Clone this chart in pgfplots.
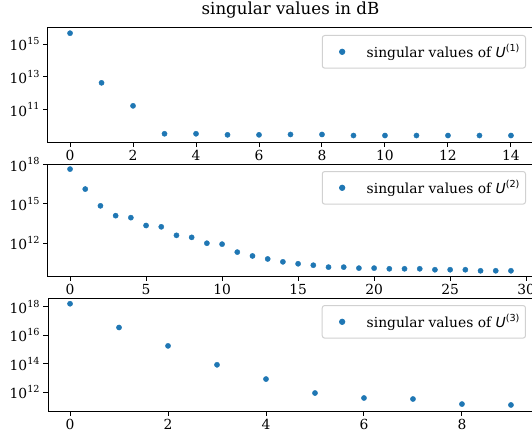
\documentclass[border=0pt]{standalone}
\usepackage{fontspec}
\setmainfont{DejaVu Serif}
\newfontfamily\dvs{DejaVu Sans}
\usepackage{pgfplots}
\pgfplotsset{compat=1.18}
\definecolor{tabblue}{HTML}{1F77B4}
\newcommand{\Ulab}[1]{{\dvs\itshape U}\raisebox{0.42em}{\dvs\fontsize{9.7}{10}\selectfont(#1)}}
\newcommand{\tp}[1]{10\raisebox{0.45em}{\fontsize{9.7}{10}\selectfont #1}}
\pgfplotsset{
 every axis/.append style={
  scale only axis, width=485bp, anchor=north west,
  axis line style={line width=1.0bp},
  every tick/.style={black, line width=1.0bp},
  major tick length=4.9bp, tick align=outside,
  xtick pos=bottom, ytick pos=left,
  tick label style={font=\fontsize{13.9}{16}\selectfont},
  /pgf/number format/assume math mode=true,
  axis background/.style={fill=white},
  legend style={at={(1,1)}, anchor=north east, xshift=-7bp, yshift=-7bp,
    draw=black!18, rounded corners=2.5bp, line width=1.0bp, fill=white,
    font=\fontsize{13.9}{16}\selectfont, inner xsep=4bp, inner ysep=7bp,
    /tikz/every odd column/.append style={column sep=20bp}},
  legend cell align=left,
 },
}
\pgfplotsset{legend image code/.code={\path[draw=none,fill=none] (-2bp,0bp) -- (13.9bp,0bp); \draw[mark repeat=2,mark phase=2,#1] plot coordinates {(0bp,0bp) (13.9bp,0bp) (27.8bp,0bp)};}}
\begin{document}
\begin{tikzpicture}
\path[use as bounding box] (0,0) rectangle (532bp,-435bp);
% axis 1
\begin{axis}[ymode=log, at={(48bp,-28bp)}, height=114bp,
  xmin=-0.7, xmax=14.7, ymin=1e9, ymax=1e16,
  xtick={0,2,...,14}, yminorticks=false,
  ytick={1e11,1e13,1e15}, yticklabels={\tp{11},\tp{13},\tp{15}},
  title={singular values in dB}, title style={font=\fontsize{16.7}{20}\selectfont}]
\addplot[only marks, mark=*, mark size=2.6bp, color=tabblue] coordinates {(0,4.8e15) (1,4.3e12) (2,1.66e11) (3,3.2e9) (4,3.2e9) (5,2.75e9) (6,2.75e9) (7,2.9e9) (8,2.9e9) (9,2.5e9) (10,2.5e9) (11,2.5e9) (12,2.5e9) (13,2.5e9) (14,2.5e9)};
\addlegendentry{singular values of \Ulab{1}}
\end{axis}
% axis 2
\begin{axis}[ymode=log, at={(48bp,-164bp)}, height=112bp,
  xmin=-1.45, xmax=30.45, ymin=3.16e9, ymax=1.1e18,
  xtick={0,5,...,30}, yminorticks=false,
  ytick={1e12,1e15,1e18}, yticklabels={\tp{12},\tp{15},\tp{18}}]
\addplot[only marks, mark=*, mark size=2.6bp, color=tabblue] coordinates {(0,4.5e17) (1,1.35e16) (2,7.1e14) (3,1.26e14) (4,8.9e13) (5,2.24e13) (6,1.78e13) (7,4e12) (8,2.8e12) (9,1e12) (10,8.5e11) (11,2.1e11) (12,1.07e11) (13,6.3e10) (14,3.8e10) (15,2.7e10) (16,2.1e10) (17,1.5e10) (18,1.5e10) (19,1.26e10) (20,1.26e10) (21,1.12e10) (22,1.12e10) (23,1.12e10) (24,9.5e9) (25,9.5e9) (26,9.5e9) (27,7.9e9) (28,7.9e9) (29,7.9e9)};
\addlegendentry{singular values of \Ulab{2}}
\end{axis}
% axis 3
\begin{axis}[ymode=log, at={(48bp,-298bp)}, height=113bp,
  xmin=-0.45, xmax=9.45, ymin=4.9e10, ymax=4.1e18,
  xtick={0,2,...,8}, yminorticks=false,
  ytick={1e12,1e14,1e16,1e18}, yticklabels={\tp{12},\tp{14},\tp{16},\tp{18}}]
\addplot[only marks, mark=*, mark size=2.6bp, color=tabblue] coordinates {(0,1.62e18) (1,3.5e16) (2,1.8e15) (3,8.5e13) (4,8.5e12) (5,8.9e11) (6,4e11) (7,3.4e11) (8,1.5e11) (9,1.3e11)};
\addlegendentry{singular values of \Ulab{3}}
\end{axis}
\end{tikzpicture}
\end{document}
